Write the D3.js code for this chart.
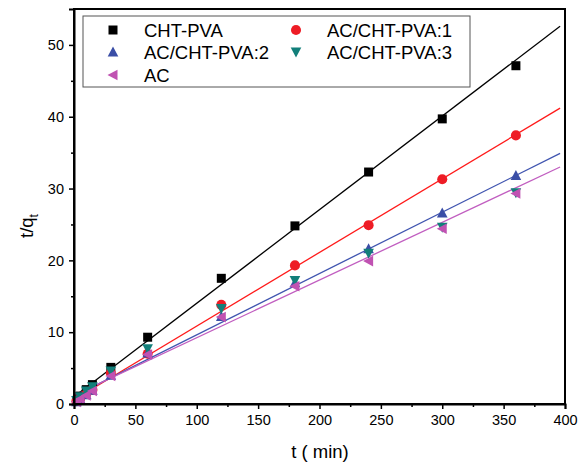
<!DOCTYPE html>
<html>
<head>
<meta charset="utf-8">
<script src="https://cdn.jsdelivr.net/npm/d3@7"></script>
<style>
  body { margin: 0; background: #fff; }
  text { font-family: "Liberation Sans", Arial, sans-serif; }
</style>
</head>
<body>
<svg id="chart"></svg>
<script>
// sampling times (min)
const times = [2, 5, 10, 15, 30, 60, 120, 180, 240, 300, 360];

// t/qt values
const chtPva = [0.5, 1.1, 2.0, 2.7, 5.1, 9.3, 17.5, 24.8, 32.3, 39.7, 47.1];
const acChtPva1 = [0.4, 0.8, 1.4, 2.0, 4.3, 7.0, 13.8, 19.3, 24.9, 31.3, 37.4];
const acChtPva2 = [0.3, 0.7, 1.3, 1.9, 4.0, 7.1, 12.2, 16.9, 21.6, 26.6, 31.8];
const acChtPva3 = [0.5, 1.0, 1.8, 2.4, 4.6, 7.7, 13.3, 17.2, 21.0, 24.6, 29.4];
const acOnly = [0.3, 0.7, 1.2, 1.8, 3.9, 6.9, 12.1, 16.4, 19.9, 24.4, 29.3];

// fitted lines: [t start, value start, t end, value end]
const fitChtPva = [0, 1.0, 396, 52.6];
const fitAc1 = [0, 0.6, 396, 41.2];
const fitAc2 = [0, 1.1, 396, 34.9];
const fitAc = [0, 1.2, 396, 33.0];

const xTicks = [0, 50, 100, 150, 200, 250, 300, 350, 400];
const yTicks = [0, 10, 20, 30, 40, 50];

const series = [
  { name: "CHT-PVA", values: chtPva, color: "#000000", symbol: "square", fit: fitChtPva, line: "#000000" },
  { name: "AC/CHT-PVA:1", values: acChtPva1, color: "#ee1c25", symbol: "circle", fit: fitAc1, line: "#ff1a1a" },
  { name: "AC/CHT-PVA:2", values: acChtPva2, color: "#3a4ea6", symbol: "up", fit: fitAc2, line: "#4055b0" },
  { name: "AC/CHT-PVA:3", values: acChtPva3, color: "#127f7a", symbol: "down", fit: null },
  { name: "AC", values: acOnly, color: "#c052b2", symbol: "left", fit: fitAc, line: "#c15ec0" }
];

const width = 588, height = 469;
const margin = { top: 9, right: 23, bottom: 65, left: 74 };

const svg = d3.select("#chart").attr("width", width).attr("height", height);

const x = d3.scaleLinear().domain([0, 400]).range([margin.left, width - margin.right]);
const y = d3.scaleLinear().domain([0, 55]).range([height - margin.bottom, margin.top]);

// marker shapes
function markerPath(sym) {
  const s = 4.5;
  if (sym === "square") return `M${-s},${-s}H${s}V${s}H${-s}Z`;
  if (sym === "up") return `M0,${-s - 1}L${s + 0.8},${s}L${-s - 0.8},${s}Z`;
  if (sym === "down") return `M0,${s + 1}L${s + 0.8},${-s}L${-s - 0.8},${-s}Z`;
  if (sym === "left") return `M${-s - 1},0L${s},${-s - 0.8}L${s},${s + 0.8}Z`;
  return d3.symbol(d3.symbolCircle, 80)();
}

// fit lines
const plot = svg.append("g");
series.filter(d => d.fit).forEach(s => {
  plot.append("line")
    .attr("x1", x(s.fit[0])).attr("y1", y(s.fit[1]))
    .attr("x2", x(s.fit[2])).attr("y2", y(s.fit[3]))
    .attr("stroke", s.line)
    .attr("stroke-width", 1.3);
});

// points
series.forEach(s => {
  plot.append("g").selectAll("path")
    .data(times.map((t, i) => [t, s.values[i]]))
    .enter()
    .append("path")
    .attr("d", markerPath(s.symbol))
    .attr("transform", d => `translate(${x(d[0])},${y(d[1])})`)
    .attr("fill", s.color);
});

// frame
svg.append("rect")
  .attr("x", margin.left).attr("y", margin.top)
  .attr("width", width - margin.left - margin.right)
  .attr("height", height - margin.top - margin.bottom)
  .attr("fill", "none").attr("stroke", "#000").attr("stroke-width", 2);

// axes
svg.append("g")
  .attr("transform", `translate(0,${height - margin.bottom})`)
  .call(d3.axisBottom(x).tickValues(xTicks).tickSize(5).tickPadding(6));
svg.append("g")
  .attr("transform", `translate(0,${height - margin.bottom})`)
  .call(d3.axisBottom(x).tickValues(d3.range(25, 400, 50)).tickSize(3).tickFormat(""))
  .call(g => g.select(".domain").remove());

svg.append("g")
  .attr("transform", `translate(${margin.left},0)`)
  .call(d3.axisLeft(y).tickValues(yTicks).tickSize(5).tickPadding(5));
svg.append("g")
  .attr("transform", `translate(${margin.left},0)`)
  .call(d3.axisLeft(y).tickValues(d3.range(5, 55, 10)).tickSize(3).tickFormat(""))
  .call(g => g.select(".domain").remove());

svg.selectAll(".tick line").attr("stroke-width", 1.5);
svg.selectAll(".domain").attr("stroke-width", 2);
svg.selectAll(".tick text")
  .style("font-size", "14.5px")
  .style("font-family", "'Liberation Sans', Arial, sans-serif")
  .attr("fill", "#000");

// axis titles
svg.append("text")
  .attr("x", 320)
  .attr("y", 458)
  .attr("text-anchor", "middle")
  .style("font-size", "18.5px")
  .text("t ( min)");

const yl = svg.append("text")
  .attr("transform", "translate(33,226) rotate(-90)")
  .attr("text-anchor", "middle")
  .style("font-size", "18.5px");
yl.append("tspan").text("t/q");
yl.append("tspan").attr("dy", 5).style("font-size", "12px").text("t");

// legend
const legend = svg.append("g");
legend.append("rect")
  .attr("x", 83).attr("y", 16).attr("width", 387).attr("height", 71)
  .attr("fill", "#fff").attr("stroke", "#555").attr("stroke-width", 1);

const legendPos = [
  [113, 30], [296, 30], [113, 52], [296, 52], [113, 75]
];
series.forEach((s, i) => {
  const [lx, ly] = legendPos[i];
  legend.append("path")
    .attr("d", markerPath(s.symbol))
    .attr("transform", `translate(${lx},${ly})`)
    .attr("fill", s.color);
  legend.append("text")
    .attr("x", lx + 31).attr("y", ly + 6.5)
    .style("font-size", "18.5px")
    .text(s.name);
});
</script>
</body>
</html>
